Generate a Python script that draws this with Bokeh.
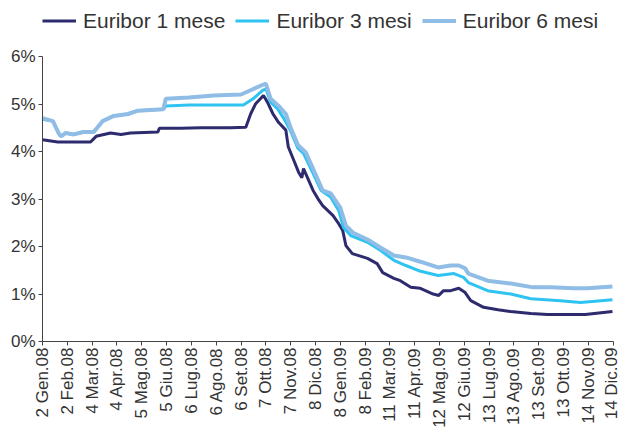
from math import pi
from bokeh.plotting import figure
from bokeh.models import Range1d, FixedTicker, Legend, LegendItem, PrintfTickFormatter
from bokeh.embed import file_html
from bokeh.resources import INLINE

# x = days since 2 Gen. 2008
tick_days = [0, 31, 62, 93, 124, 155, 186, 217, 248, 279, 310, 341,
             372, 403, 434, 465, 496, 527, 558, 589, 620, 651, 682, 713]
tick_labels = ["2 Gen.08", "2 Feb.08", "4 Mar.08", "4 Apr.08", "5 Mag.08", "5 Giu.08",
               "6 Lug.08", "6 Ago.08", "6 Set.08", "7 Ott.08", "7 Nov.08", "8 Dic.08",
               "8 Gen.09", "8 Feb.09", "11 Mar.09", "11 Apr.09", "12 Mag.09", "12 Giu.09",
               "13 Lug.09", "13 Ago.09", "13 Set.09", "13 Ott.09", "14 Nov.09", "14 Dic.09"]
y_ticks = [0, 1, 2, 3, 4, 5, 6]

m1_days = [0, 19, 60, 67, 85, 98, 110, 144, 146, 173, 198, 235, 254, 260, 266, 276, 281, 288,
           295, 304, 307, 314, 320, 324, 326, 331, 338, 344, 350, 363, 370, 375, 379, 387,
           406, 418, 425, 439, 447, 460, 472, 488, 495, 501, 510, 520, 528, 535, 551, 569,
           585, 610, 631, 678, 712]
m1_vals = [4.25, 4.20, 4.20, 4.32, 4.39, 4.36, 4.39, 4.41, 4.49, 4.49, 4.50, 4.50, 4.51, 4.79,
           5.00, 5.18, 5.04, 4.79, 4.61, 4.45, 4.10, 3.81, 3.56, 3.45, 3.64, 3.45, 3.18, 3.01,
           2.86, 2.65, 2.48, 2.34, 2.02, 1.85, 1.75, 1.64, 1.45, 1.33, 1.28, 1.14, 1.12, 1.00,
           0.97, 1.07, 1.07, 1.12, 1.03, 0.86, 0.72, 0.67, 0.63, 0.59, 0.57, 0.57, 0.63]

m3_days = [0, 13, 20, 23, 29, 39, 51, 64, 75, 89, 107, 119, 151, 154, 183, 251, 263, 275,
           279, 285, 294, 301, 310, 319, 326, 338, 348, 360, 370, 376, 385, 406, 422, 439,
           454, 470, 494, 514, 526, 532, 556, 585, 610, 647, 672, 712]
m3_vals = [4.68, 4.64, 4.39, 4.32, 4.39, 4.36, 4.41, 4.41, 4.64, 4.75, 4.79, 4.86, 4.89, 4.96,
           4.98, 4.98, 5.11, 5.29, 5.32, 5.04, 4.89, 4.71, 4.43, 4.07, 3.96, 3.54, 3.18, 3.04,
           2.76, 2.40, 2.23, 2.09, 1.92, 1.71, 1.60, 1.49, 1.39, 1.43, 1.35, 1.24, 1.07, 1.00,
           0.90, 0.86, 0.82, 0.88]

m6_days = [0, 13, 20, 23, 29, 39, 51, 64, 75, 89, 107, 119, 151, 154, 183, 214, 248, 260,
           273, 279, 285, 295, 304, 310, 319, 329, 339, 350, 360, 372, 379, 388, 408, 422,
           439, 454, 472, 494, 510, 520, 528, 532, 556, 585, 613, 635, 663, 681, 712]
m6_vals = [4.70, 4.64, 4.39, 4.32, 4.39, 4.36, 4.41, 4.41, 4.64, 4.75, 4.79, 4.86, 4.89, 5.11,
           5.14, 5.18, 5.20, 5.29, 5.39, 5.43, 5.11, 4.96, 4.79, 4.50, 4.14, 3.98, 3.60, 3.18,
           3.12, 2.82, 2.44, 2.29, 2.13, 1.98, 1.81, 1.77, 1.68, 1.56, 1.60, 1.60, 1.54, 1.43,
           1.28, 1.22, 1.14, 1.14, 1.12, 1.12, 1.16]

series_names = ["Euribor 1 mese", "Euribor 3 mesi", "Euribor 6 mesi"]

FONT = "Liberation Sans"
TXT = "#333333"

p = figure(width=620, height=430, output_backend="svg", toolbar_location=None,
           x_range=Range1d(0, 713.3), y_range=Range1d(0, 7.18),
           min_border_left=42, min_border_right=7, min_border_top=0, min_border_bottom=0)
p.outline_line_color = None
p.xgrid.visible = False
p.ygrid.visible = False
p.background_fill_color = "white"

r1 = p.line(m1_days, m1_vals, line_color="#2D2B6E", line_width=3)
r3 = p.line(m3_days, m3_vals, line_color="#2FC3F2", line_width=3)
r6 = p.line(m6_days, m6_vals, line_color="#8FBDE6", line_width=4)

xa = p.xaxis[0]
xa.ticker = FixedTicker(ticks=tick_days)
xa.major_label_overrides = {d: l for d, l in zip(tick_days, tick_labels)}
xa.major_label_orientation = pi / 2
xa.bounds = (0, 713)
ya = p.yaxis[0]
ya.ticker = FixedTicker(ticks=y_ticks)
ya.formatter = PrintfTickFormatter(format="%d%%")
ya.bounds = (0, 6)
for ax in (xa, ya):
    ax.axis_line_color = "#444444"
    ax.axis_line_width = 1
    ax.major_tick_line_color = "#444444"
    ax.major_tick_out = 4
    ax.major_tick_in = 0
    ax.minor_tick_out = 0
    ax.minor_tick_in = 0
    ax.major_label_text_font = FONT
    ax.major_label_text_font_size = "17px"
    ax.major_label_text_color = TXT
xa.major_label_standoff = 2
ya.major_label_standoff = 3

legend = Legend(items=[LegendItem(label=series_names[0], renderers=[r1]),
                       LegendItem(label=series_names[1], renderers=[r3]),
                       LegendItem(label=series_names[2], renderers=[r6])],
                orientation="horizontal", location="top_left",
                margin=0, padding=0, spacing=10,
                glyph_width=34, glyph_height=41, label_height=41, label_standoff=7,
                label_text_font=FONT, label_text_font_size="21px", label_text_color=TXT,
                border_line_color=None, background_fill_alpha=0)
p.add_layout(legend)

open("out.html", "w").write(file_html(p, INLINE))
